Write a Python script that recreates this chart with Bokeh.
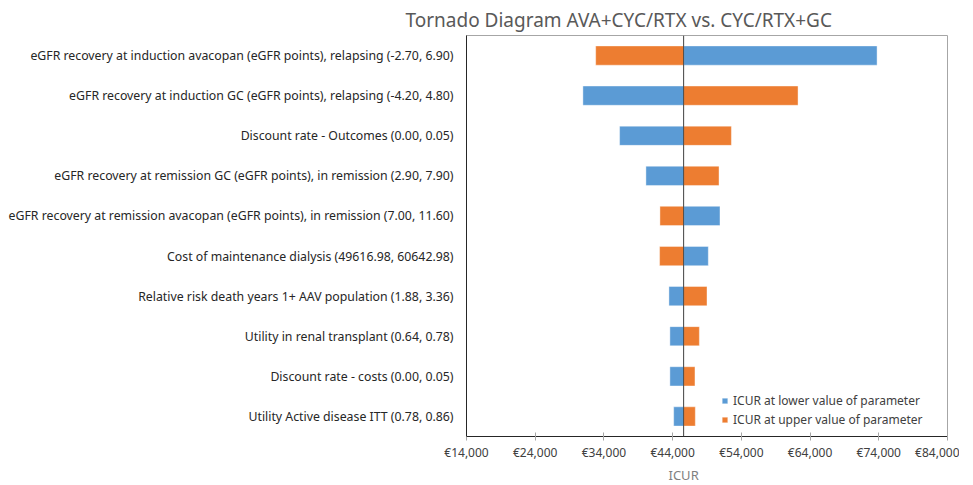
from bokeh.plotting import figure
from bokeh.models import (Span, Title, Legend, LegendItem, ColumnDataSource,
                          FixedTicker, CustomJSTickFormatter, Range1d)
from bokeh.embed import file_html
from bokeh.resources import INLINE

# ---- data ----
parameters = [
    "eGFR recovery at induction avacopan (eGFR points), relapsing (-2.70, 6.90)",
    "eGFR recovery at induction GC (eGFR points), relapsing (-4.20, 4.80)",
    "Discount rate - Outcomes (0.00, 0.05)",
    "eGFR recovery at remission GC (eGFR points), in remission (2.90, 7.90)",
    "eGFR recovery at remission avacopan (eGFR points), in remission (7.00, 11.60)",
    "Cost of maintenance dialysis (49616.98, 60642.98)",
    "Relative risk death years 1+ AAV population (1.88, 3.36)",
    "Utility in renal transplant (0.64, 0.78)",
    "Discount rate - costs (0.00, 0.05)",
    "Utility Active disease ITT (0.78, 0.86)",
]
icur_lower = [73750, 30940, 36280, 40110, 50890, 49190, 43460, 43600, 43600, 44150]
icur_upper = [32800, 62250, 52550, 50750, 42150, 42100, 49000, 47890, 47250, 47300]
base_icur = 45600
x_ticks = [14000, 24000, 34000, 44000, 54000, 64000, 74000, 84000]

BLUE = "#5B9BD5"
ORANGE = "#ED7D31"
FONT = "Noto Sans"

src = ColumnDataSource(dict(
    param=parameters,
    base=[base_icur] * len(parameters),
    low=icur_lower,
    high=icur_upper,
))

p = figure(
    y_range=list(reversed(parameters)),
    x_range=Range1d(x_ticks[0], x_ticks[-1]),
    frame_width=481, frame_height=401,
    min_border_left=466, min_border_right=12,
    min_border_top=35, min_border_bottom=48,
    output_backend="svg", toolbar_location=None,
    outline_line_color="#A6A6A6", outline_line_width=1,
)
p.grid.visible = False

r_low = p.hbar(y="param", left="base", right="low", height=0.48, source=src,
               fill_color=BLUE, line_color="#FFFFFF", line_alpha=0.4, line_width=1)
r_high = p.hbar(y="param", left="base", right="high", height=0.48, source=src,
                fill_color=ORANGE, line_color="#FFFFFF", line_alpha=0.4, line_width=1)

p.add_layout(Span(location=base_icur, dimension="height",
                  line_color="#404040", line_width=1))

# x axis
xa = p.xaxis[0]
xa.ticker = FixedTicker(ticks=x_ticks)
xa.formatter = CustomJSTickFormatter(code="return '\u20ac' + tick.toLocaleString('en-US');")
xa.minor_tick_line_color = None
xa.major_tick_in = 4
xa.major_tick_out = 4
xa.major_tick_line_color = "#A6A6A6"
xa.axis_line_color = "#262626"
xa.major_label_text_font = FONT
xa.major_label_text_font_size = "12px"
xa.major_label_text_color = "#404040"
xa.major_label_standoff = 3

# y axis
ya = p.yaxis[0]
ya.major_tick_in = 0
ya.major_tick_out = 0
ya.axis_line_color = "#262626"
ya.major_label_text_font = FONT
ya.major_label_text_font_size = "12.3px"
ya.major_label_text_color = "#262626"
ya.major_label_standoff = 13

# title and axis label
p.title = Title(text="Tornado Diagram AVA+CYC/RTX vs. CYC/RTX+GC",
                align="left", offset=-61, standoff=6,
                text_font=FONT, text_font_size="19px",
                text_font_style="normal", text_color="#595959")
p.add_layout(Title(text="ICUR", align="left", offset=202, standoff=0,
                   text_font=FONT, text_font_size="13px",
                   text_font_style="normal", text_color="#7F7F7F"), "below")

legend = Legend(items=[
    LegendItem(label="ICUR at lower value of parameter", renderers=[r_low]),
    LegendItem(label="ICUR at upper value of parameter", renderers=[r_high]),
], location=(255, 8))
legend.background_fill_alpha = 0
legend.border_line_color = None
legend.padding = 0
legend.margin = 0
legend.spacing = 2
legend.glyph_width = 7
legend.glyph_height = 7
legend.label_standoff = 5
legend.label_text_font = FONT
legend.label_text_font_size = "12px"
legend.label_text_color = "#404040"
legend.label_height = 17
p.add_layout(legend, "center")

open("out.html", "w").write(file_html(p, INLINE))
